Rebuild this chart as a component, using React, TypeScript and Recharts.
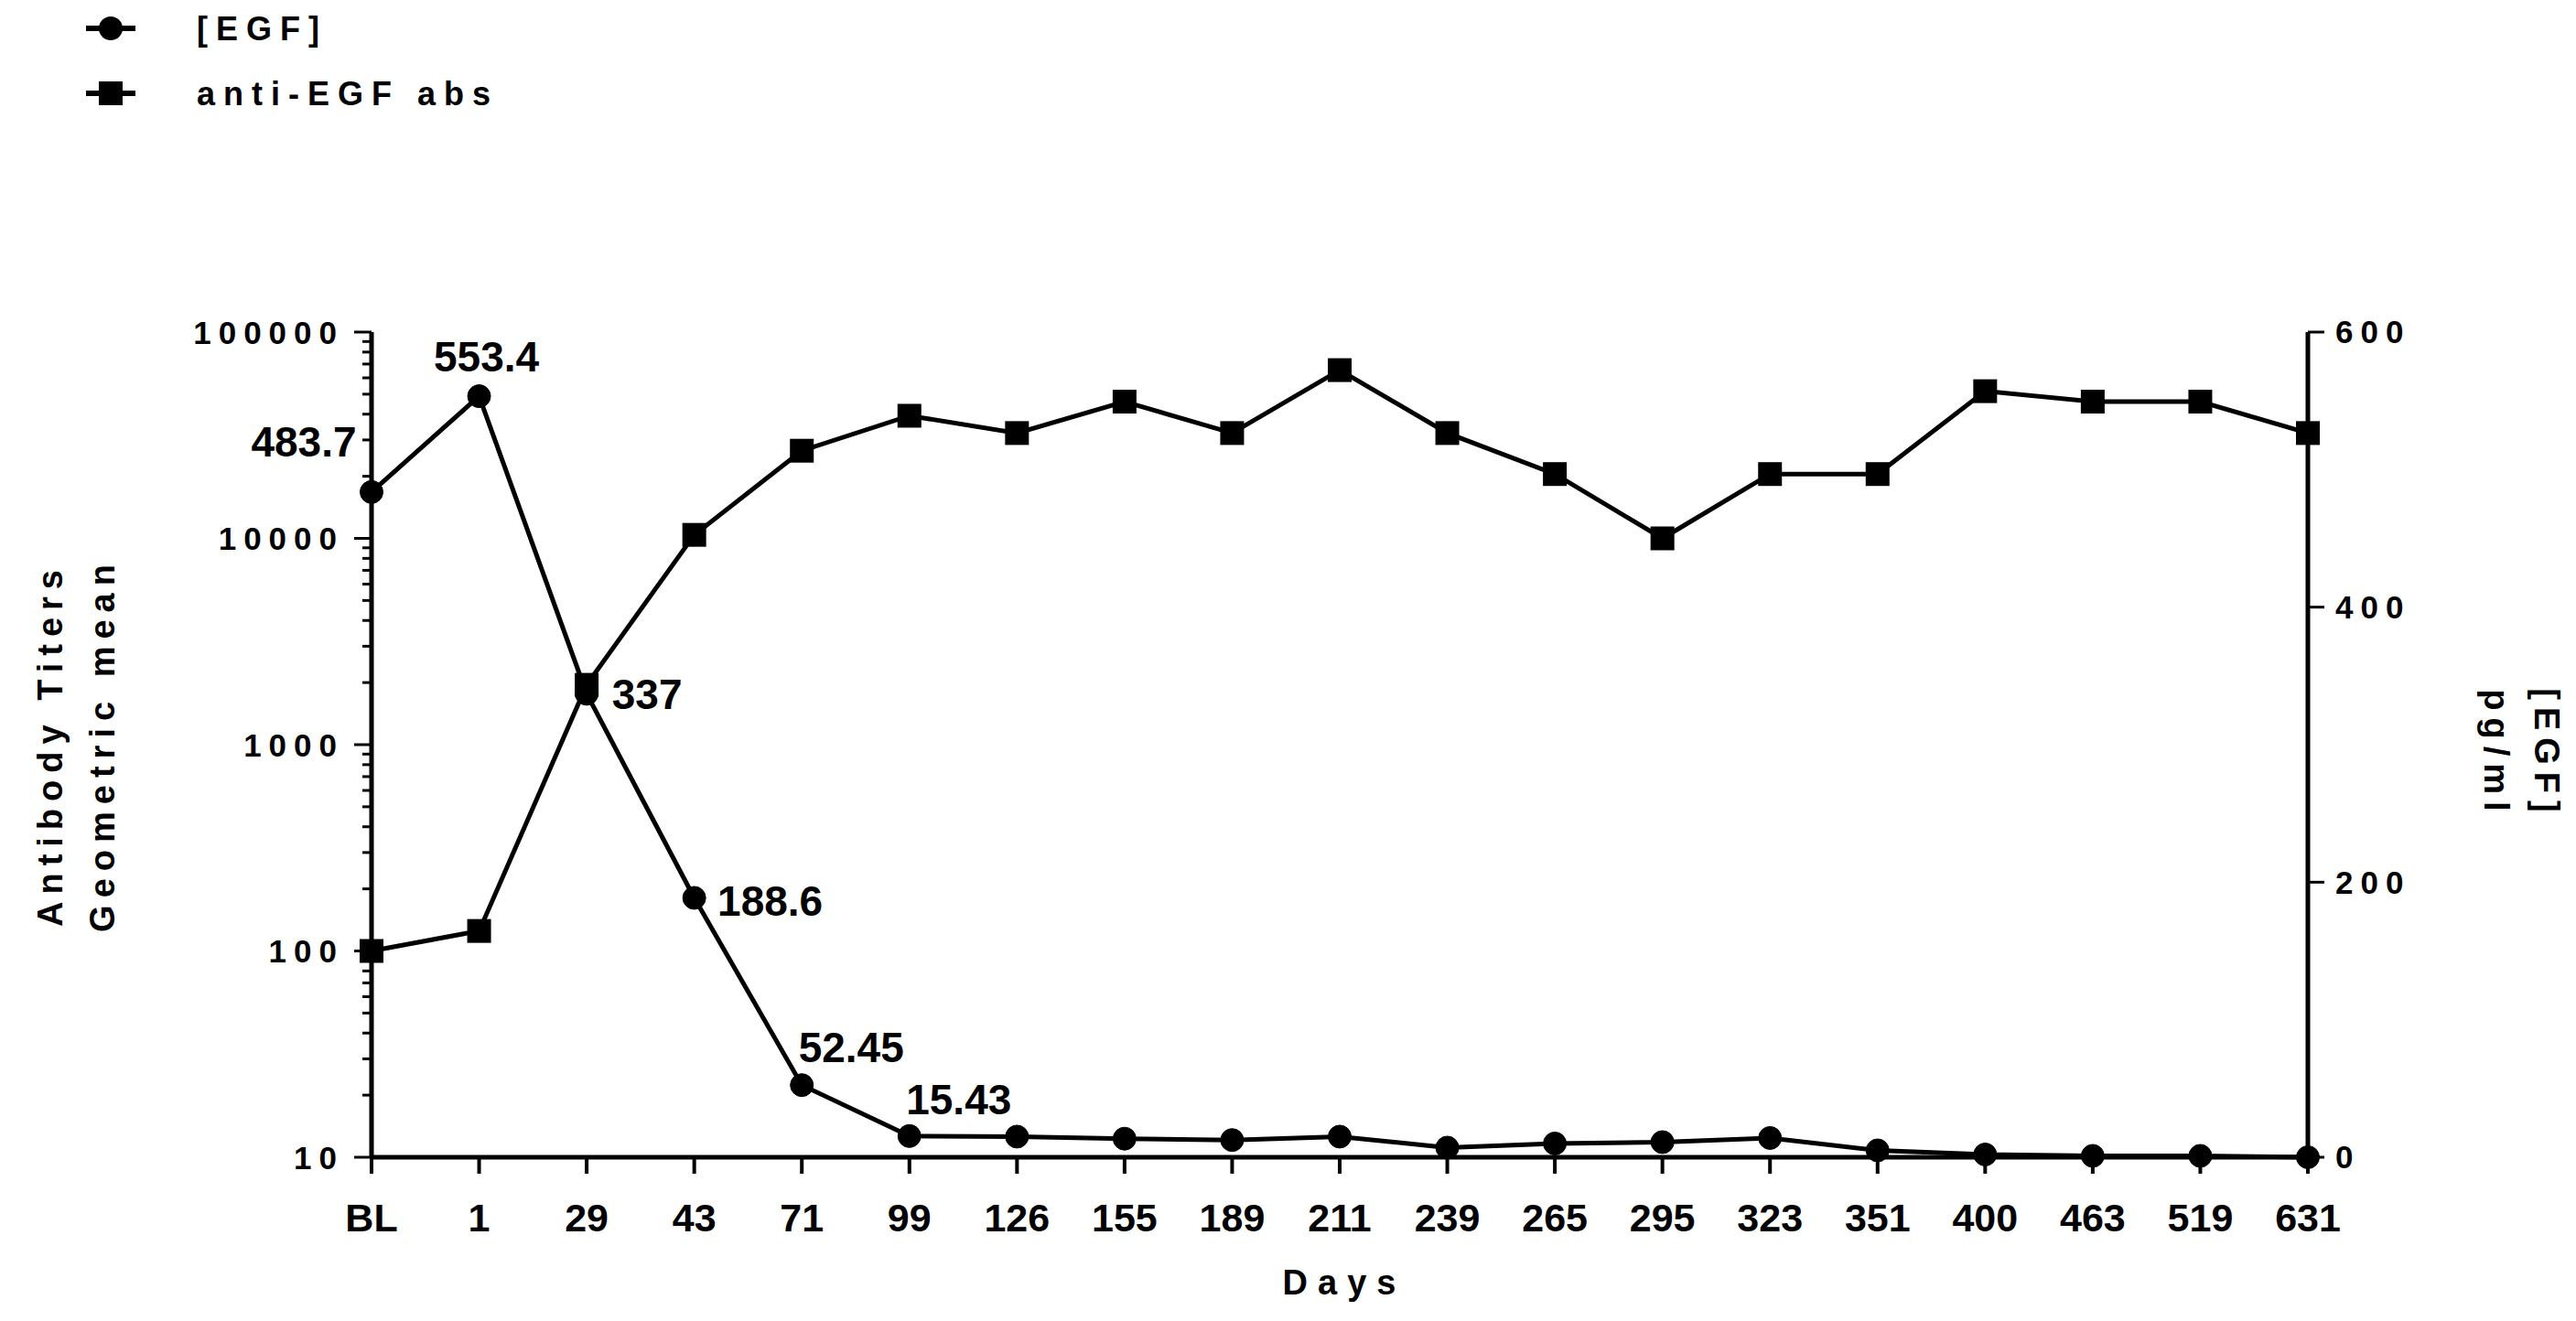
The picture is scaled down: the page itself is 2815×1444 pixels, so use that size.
import { LineChart, Line, XAxis, YAxis, Legend, LabelList } from 'recharts';

const days = ['BL', '1', '29', '43', '71', '99', '126', '155', '189', '211', '239', '265', '295', '323', '351', '400', '463', '519', '631'];
const egf = [483.7, 553.4, 337, 188.6, 52.45, 15.43, 15, 13.5, 12.5, 15, 7, 10, 11, 14, 5, 2, 1, 1, 0];
const antiEgf = [100, 125, 1950, 10400, 26600, 39300, 32400, 46000, 32400, 65400, 32400, 20500, 10000, 20500, 20500, 51700, 46000, 46000, 32400];
const egfLabels = ['483.7', '553.4', '337', '188.6', '52.45', '15.43'];
const titerMajor = [10, 100, 1000, 10000, 100000];
const egfTicks = [0, 200, 400, 600];

// minor ticks 2..9 inside each decade
const titerTicks = titerMajor.flatMap((d, i) =>
  i === titerMajor.length - 1 ? [d] : [d, ...[2, 3, 4, 5, 6, 7, 8, 9].map((k) => d * k)]
);

const data = days.map((day, i) => ({
  day,
  egf: egf[i],
  antiEgf: antiEgf[i],
  egfLabel: egfLabels[i] ?? '',
}));

const FONT = '"Liberation Sans", Arial, sans-serif';
const INK = '#000';

// label placement next to each annotated [EGF] point
const labelShift: [number, number][] = [
  [-74, -55],
  [8, -44],
  [66, 0],
  [83, 3],
  [54, -42],
  [54, -40],
];

const CircleDot = (props: any) => {
  const { cx, cy } = props;
  if (cx == null || cy == null) return null;
  return <circle cx={cx} cy={cy} r={12.5} fill={INK} stroke={INK} />;
};

const SquareDot = (props: any) => {
  const { cx, cy } = props;
  if (cx == null || cy == null) return null;
  return <rect x={cx - 13} y={cy - 13} width={26} height={26} fill={INK} />;
};

const EgfLabel = (props: any) => {
  const { x, y, value, index } = props;
  if (!value) return null;
  const [dx, dy] = labelShift[index] ?? [0, -40];
  return (
    <text x={x + dx} y={y + dy} dy="0.36em" textAnchor="middle" fill={INK} fontSize={46} fontWeight={700} fontFamily={FONT}>
      {value}
    </text>
  );
};

const TiterTick = (props: any) => {
  const { x, y, payload } = props;
  const axisX = x + 20;
  const major = titerMajor.includes(payload.value);
  return (
    <g>
      <line x1={axisX - (major ? 19 : 10)} x2={axisX} y1={y} y2={y} stroke={INK} strokeWidth={3} />
      {major && (
        <text x={axisX - 30} y={y} dy="0.36em" textAnchor="end" fill={INK} fontSize={35} fontWeight={700} fontFamily={FONT} letterSpacing={8}>
          {payload.value}
        </text>
      )}
    </g>
  );
};

const TiterTitle = (props: any) => {
  const { viewBox } = props;
  const cy = viewBox.y + viewBox.height / 2;
  const style = { fontSize: 38, fontWeight: 700, fontFamily: FONT, letterSpacing: 8, fill: INK };
  return (
    <g>
      <text x={46} y={cy} dy="0.36em" textAnchor="middle" transform={`rotate(-90 46 ${cy})`} style={style}>
        Antibody Titers
      </text>
      <text x={103} y={cy} dy="0.36em" textAnchor="middle" transform={`rotate(-90 103 ${cy})`} style={style}>
        Geometric mean
      </text>
    </g>
  );
};

const EgfTitle = (props: any) => {
  const { viewBox } = props;
  const cy = viewBox.y + viewBox.height / 2 + 10;
  const x1 = viewBox.x + 262;
  const x2 = viewBox.x + 207;
  const style = { fontSize: 38, fontWeight: 700, fontFamily: FONT, letterSpacing: 8, fill: INK };
  return (
    <g>
      <text x={x1} y={cy} dy="0.36em" textAnchor="middle" transform={`rotate(90 ${x1} ${cy})`} style={style}>
        [EGF]
      </text>
      <text x={x2} y={cy} dy="0.36em" textAnchor="middle" transform={`rotate(90 ${x2} ${cy})`} style={style}>
        pg/ml
      </text>
    </g>
  );
};

const DaysTitle = (props: any) => {
  const { viewBox } = props;
  const cx = viewBox.x + viewBox.width / 2 + 5;
  return (
    <text x={cx} y={viewBox.y + 150} textAnchor="middle" fill={INK} fontSize={38} fontWeight={700} fontFamily={FONT} letterSpacing={11}>
      Days
    </text>
  );
};

const legendItems = [
  { name: '[EGF]', shape: 'circle' },
  { name: 'anti-EGF abs', shape: 'square' },
];

const LegendBox = () => (
  <svg width={640} height={140}>
    {legendItems.map((item, i) => {
      const y = 23 + i * 71;
      return (
        <g key={item.name}>
          <line x1={86} x2={140} y1={y} y2={y} stroke={INK} strokeWidth={6} />
          {item.shape === 'circle' ? (
            <circle cx={113} cy={y} r={13} fill={INK} />
          ) : (
            <rect x={100} y={y - 13} width={26} height={26} fill={INK} />
          )}
          <text x={207} y={y} dy="0.36em" fill={INK} fontSize={36} fontWeight={700} fontFamily={FONT} letterSpacing={9}>
            {item.name}
          </text>
        </g>
      );
    })}
  </svg>
);

export default function App() {
  return (
    <div style={{ width: 2800, height: 1430, background: '#fff' }}>
      <LineChart width={2800} height={1430} data={data} margin={{ top: 355, right: 0, bottom: 0, left: 0 }}>
        <Legend
          layout="horizontal"
          verticalAlign="middle"
          align="center"
          wrapperStyle={{ top: 0, left: 0, width: 640, height: 140 }}
          content={() => <LegendBox />}
        />
        <XAxis
          dataKey="day"
          interval={0}
          height={173}
          tickSize={18}
          tickMargin={32}
          axisLine={{ stroke: INK, strokeWidth: 5 }}
          tickLine={{ stroke: INK, strokeWidth: 4 }}
          tick={{ fill: INK, fontSize: 43, fontWeight: 700, fontFamily: FONT }}
          label={<DaysTitle />}
        />
        <YAxis
          yAxisId="titer"
          type="number"
          scale="log"
          domain={[10, 100000]}
          allowDataOverflow
          ticks={titerTicks}
          interval={0}
          width={398}
          tickSize={18}
          tickLine={false}
          axisLine={{ stroke: INK, strokeWidth: 5 }}
          tick={<TiterTick />}
          label={<TiterTitle />}
        />
        <YAxis
          yAxisId="egf"
          orientation="right"
          type="number"
          domain={[0, 600]}
          ticks={egfTicks}
          interval={0}
          width={286}
          tickSize={18}
          tickMargin={12}
          axisLine={{ stroke: INK, strokeWidth: 5 }}
          tickLine={{ stroke: INK, strokeWidth: 3 }}
          tick={{ fill: INK, fontSize: 35, fontWeight: 700, fontFamily: FONT, letterSpacing: 8 }}
          label={<EgfTitle />}
        />
        <Line
          yAxisId="titer"
          type="linear"
          dataKey="antiEgf"
          name="anti-EGF abs"
          stroke={INK}
          strokeWidth={5}
          dot={<SquareDot />}
          isAnimationActive={false}
        />
        <Line
          yAxisId="egf"
          type="linear"
          dataKey="egf"
          name="[EGF]"
          stroke={INK}
          strokeWidth={5}
          dot={<CircleDot />}
          isAnimationActive={false}
        >
          <LabelList dataKey="egfLabel" content={<EgfLabel />} />
        </Line>
      </LineChart>
    </div>
  );
}
